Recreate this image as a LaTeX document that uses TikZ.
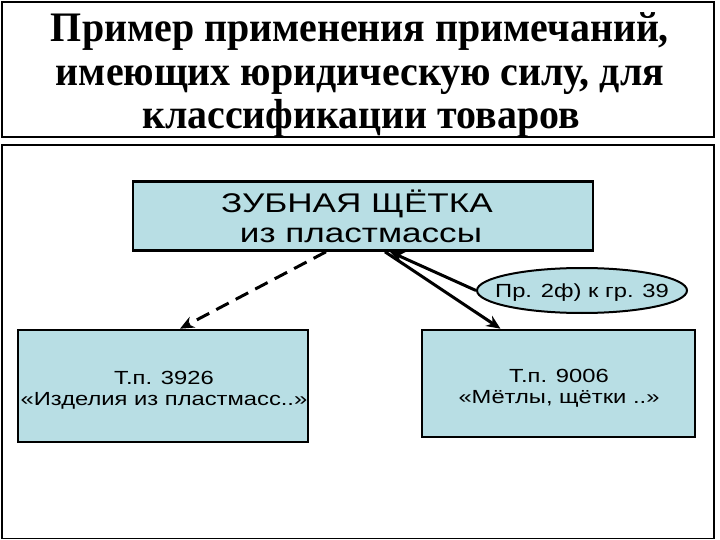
\documentclass[tikz,border=0pt]{standalone}
\usepackage{fontspec}
\setmainfont{Liberation Serif}
\newfontfamily\titlefont{Liberation Serif Bold}[FakeStretch=0.95]
\newfontfamily\widesans{Liberation Sans}[FakeStretch=1.25]
\newfontfamily\widersans{Liberation Sans}[FakeStretch=1.3]
\usetikzlibrary{arrows.meta,shapes.geometric}
\definecolor{boxblue}{RGB}{184,222,228}
\tikzset{
  frame/.style={draw=black,line width=1.6pt},
  titletext/.style={font=\titlefont\fontsize{42}{44}\selectfont,anchor=base,inner sep=0pt},
  bluebox/.style={draw=black,line width=2.6pt,fill=boxblue,inner sep=0pt},
  txt/.style={anchor=base,inner sep=0pt},
  boxtext/.style={txt,font=\widesans\fontsize{19}{22}\selectfont},
  bigtext/.style={txt,font=\widersans\fontsize{27}{30}\selectfont},
  conn/.style={line width=3pt,-{Stealth[length=14pt,width=12pt]}},
  dashconn/.style={conn,dash pattern=on 14pt off 8pt}
}
\begin{document}
\begin{tikzpicture}[x=1pt,y=-1pt]
\useasboundingbox (0,0) rectangle (720,540);
\draw[frame] (2,2) rectangle (714,137);
\draw[frame] (2,145) rectangle (714,538.5);
\node[titletext] (t1) at (360,42) {Пример применения примечаний,};
\node[titletext] (t2) at (360,86) {имеющих юридическую силу, для};
\node[titletext] (t3) at (361,129) {классификации товаров};
\node[bluebox,minimum width=460pt,minimum height=69pt] (top) at (363,216) {};
\node[bigtext] (top1) at (357,212.5) {ЗУБНАЯ ЩЁТКА};
\node[bigtext] (top2) at (361,242) {из пластмассы};
\node[bluebox,minimum width=290pt,minimum height=112pt] (left) at (163,386) {};
\node[boxtext] (left1) at (164,384) {Т.п. 3926};
\node[boxtext] (left2) at (164,405) {«Изделия из пластмасс..»};
\node[bluebox,minimum width=273pt,minimum height=107pt] (right) at (558.5,383.5) {};
\node[boxtext] (right1) at (559,382) {Т.п. 9006};
\node[boxtext] (right2) at (559,403) {«Мётлы, щётки ..»};
\node[draw=black,line width=2pt,fill=boxblue,ellipse,minimum width=210pt,minimum height=45pt,inner sep=0pt] (note) at (582,290.5) {};
\node[boxtext] (notetext) at (582,297) {Пр. 2ф) к гр. 39};
\draw[dashconn] ([xshift=-37pt]top.south) -- ([xshift=17pt]left.north);
\draw[conn] ([xshift=22pt]top.south) -- ([xshift=-58pt]right.north);
\draw[conn] (note.west) -- ([xshift=27pt]top.south);
\end{tikzpicture}
\end{document}
